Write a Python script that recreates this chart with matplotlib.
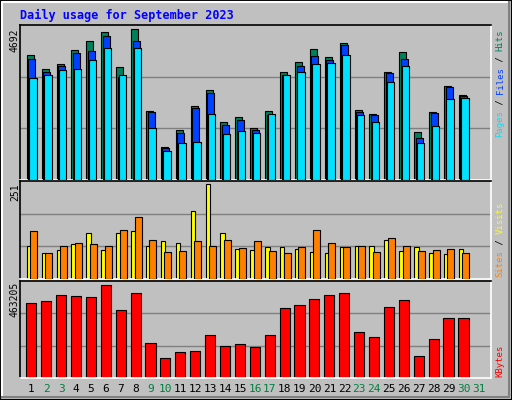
import matplotlib
matplotlib.use("Agg")
import numpy as np
import matplotlib.pyplot as plt
from matplotlib.patches import Rectangle

# -----------------------------
# Data
# -----------------------------
days = list(range(1, 31))
hits = [3896, 3450, 3609, 4055, 4342, 4597, 3514, 4692, 2144, 1030,
        1571, 2304, 2813, 1794, 1953, 1635, 2144, 3355, 3673, 4087,
        3832, 4278, 2176, 2049, 3355, 3991, 1507, 2113, 2941, 2654]
files = [3769, 3365, 3546, 3960, 4023, 4501, 3195, 4342, 2113, 998,
         1476, 2240, 2718, 1699, 1858, 1571, 2017, 3259, 3546, 3864,
         3737, 4214, 2113, 2017, 3323, 3769, 1316, 2081, 2909, 2622]
pages = [3163, 3259, 3418, 3450, 3737, 4119, 3259, 4119, 1635, 902,
         1157, 1189, 2049, 1444, 1539, 1476, 2049, 3259, 3355, 3609,
         3641, 3896, 2017, 1794, 3068, 3546, 1157, 1667, 2526, 2558]
visits = [88, 69, 77, 91, 121, 77, 121, 126, 88, 101,
          96, 180, 251, 121, 80, 77, 85, 85, 80, 72,
          69, 85, 88, 88, 104, 74, 85, 69, 66, 80]
sites = [126, 69, 88, 96, 91, 88, 129, 164, 104, 72,
         74, 99, 88, 104, 82, 101, 74, 69, 85, 129,
         96, 85, 88, 72, 107, 88, 74, 77, 80, 69]
kbytes = [371894, 382037, 412466, 407395, 402323, 463205, 336532, 422610,
          174117, 98045, 128474, 133545, 214689, 158903, 169046, 153831,
          214689, 346539, 361754, 392180, 412466, 422610, 229903, 204546,
          351610, 387109, 108188, 194402, 295832, 295832]
day_labels = [str(d) for d in range(1, 32)]
weekend_days = [2, 3, 9, 10, 16, 17, 23, 24, 30, 31]

BG = "#C0C0C0"
MONO = "DejaVu Sans Mono"

fig = plt.figure(figsize=(5.12, 4.0), dpi=100)
fig.patch.set_facecolor(BG)

W, H = 512.0, 400.0


def add_panel(top, bottom):
    ax = fig.add_axes([20 / W, (H - bottom) / H, 471 / W, (bottom - top) / H])
    ax.set_facecolor(BG)
    ax.set_xlim(1.13, 32.74)
    ax.set_xticks([])
    ax.set_yticks([])
    ax.spines["left"].set_color("black")
    ax.spines["top"].set_color("black")
    ax.spines["right"].set_color("white")
    ax.spines["bottom"].set_color("white")
    for s in ax.spines.values():
        s.set_linewidth(1.2)
    return ax


def gridlines(ax, top):
    for f in (1 / 3, 2 / 3):
        ax.axhline(top * f, color="#808080", lw=1, zorder=0)


x = np.array(days, dtype=float)

# top panel: hits / files / pages
ax1 = add_panel(25, 180)
top1 = max(hits) * 1.029
ax1.set_ylim(0, top1)
gridlines(ax1, top1)
ax1.bar(x + 0.58, hits, width=0.47, align="edge", color="#00805C", edgecolor="black", lw=0.8, zorder=2)
ax1.bar(x + 0.69, files, width=0.47, align="edge", color="#0040FF", edgecolor="black", lw=0.8, zorder=3)
ax1.bar(x + 0.75, pages, width=0.5, align="edge", color="#00E0FF", edgecolor="black", lw=0.8, zorder=4)

# middle panel: visits / sites
ax2 = add_panel(181, 279)
top2 = max(visits) * 1.029
ax2.set_ylim(0, top2)
gridlines(ax2, top2)
ax2.bar(x + 0.58, visits, width=0.3, align="edge", color="#FFFF00", edgecolor="black", lw=0.8, zorder=2)
ax2.bar(x + 0.82, sites, width=0.47, align="edge", color="#FF8000", edgecolor="black", lw=0.8, zorder=3)

# bottom panel: kbytes
ax3 = add_panel(281, 378)
top3 = max(kbytes) * 1.04
ax3.set_ylim(0, top3)
gridlines(ax3, top3)
ax3.bar(x + 0.55, kbytes, width=0.68, align="edge", color="#FF0000", edgecolor="black", lw=0.8, zorder=2)

# max value labels (pixel positions of their top ends)
for y_px, label in ((29, "4692"), (183, "251"), (282, "463205")):
    fig.text(15 / W, 1 - y_px / H, label, rotation=90, ha="center", va="top",
             fontsize=7, family=MONO, color="black")

# day labels
for i, lab in enumerate(day_labels, start=1):
    col = "#008040" if i in weekend_days else "black"
    ax3.text(i + 0.9, -0.11, lab, transform=ax3.get_xaxis_transform(),
             ha="center", va="center", fontsize=8, family=MONO, color=col)

# title
fig.text(20 / W, 1 - 15 / H, "Daily usage for September 2023", ha="left", va="center",
         fontsize=8.5, family=MONO, weight="bold", color="#0000FF")


def right_label(parts, y_bottom):
    y = y_bottom
    for txt, col in parts:
        fig.text(500 / W, y / H, txt, rotation=90, ha="center", va="bottom",
                 fontsize=6.5, family=MONO, color=col)
        y += len(txt) * 5.4


right_label([("Pages", "#00E0FF"), (" / ", "black"), ("Files", "#0040FF"),
             (" / ", "black"), ("Hits", "#00805C")], H - 137)
right_label([("Sites", "#FF8000"), (" / ", "black"), ("Visits", "#FFFF00")], H - 277)
right_label([("KBytes", "#FF0000")], H - 377)

# bevel border
fig.patches.append(Rectangle((0, 0), 1, 1, transform=fig.transFigure, fill=False,
                             edgecolor="black", lw=1.5))
fig.add_artist(plt.Line2D([2 / W, 2 / W, 1 - 3 / W], [3 / H, 1 - 2 / H, 1 - 2 / H],
                          transform=fig.transFigure, color="white", lw=1.5))
fig.add_artist(plt.Line2D([2 / W, 1 - 3 / W, 1 - 3 / W], [3 / H, 3 / H, 1 - 2 / H],
                          transform=fig.transFigure, color="#808080", lw=1.5))

fig.savefig("out.png", dpi=100, facecolor=BG)
